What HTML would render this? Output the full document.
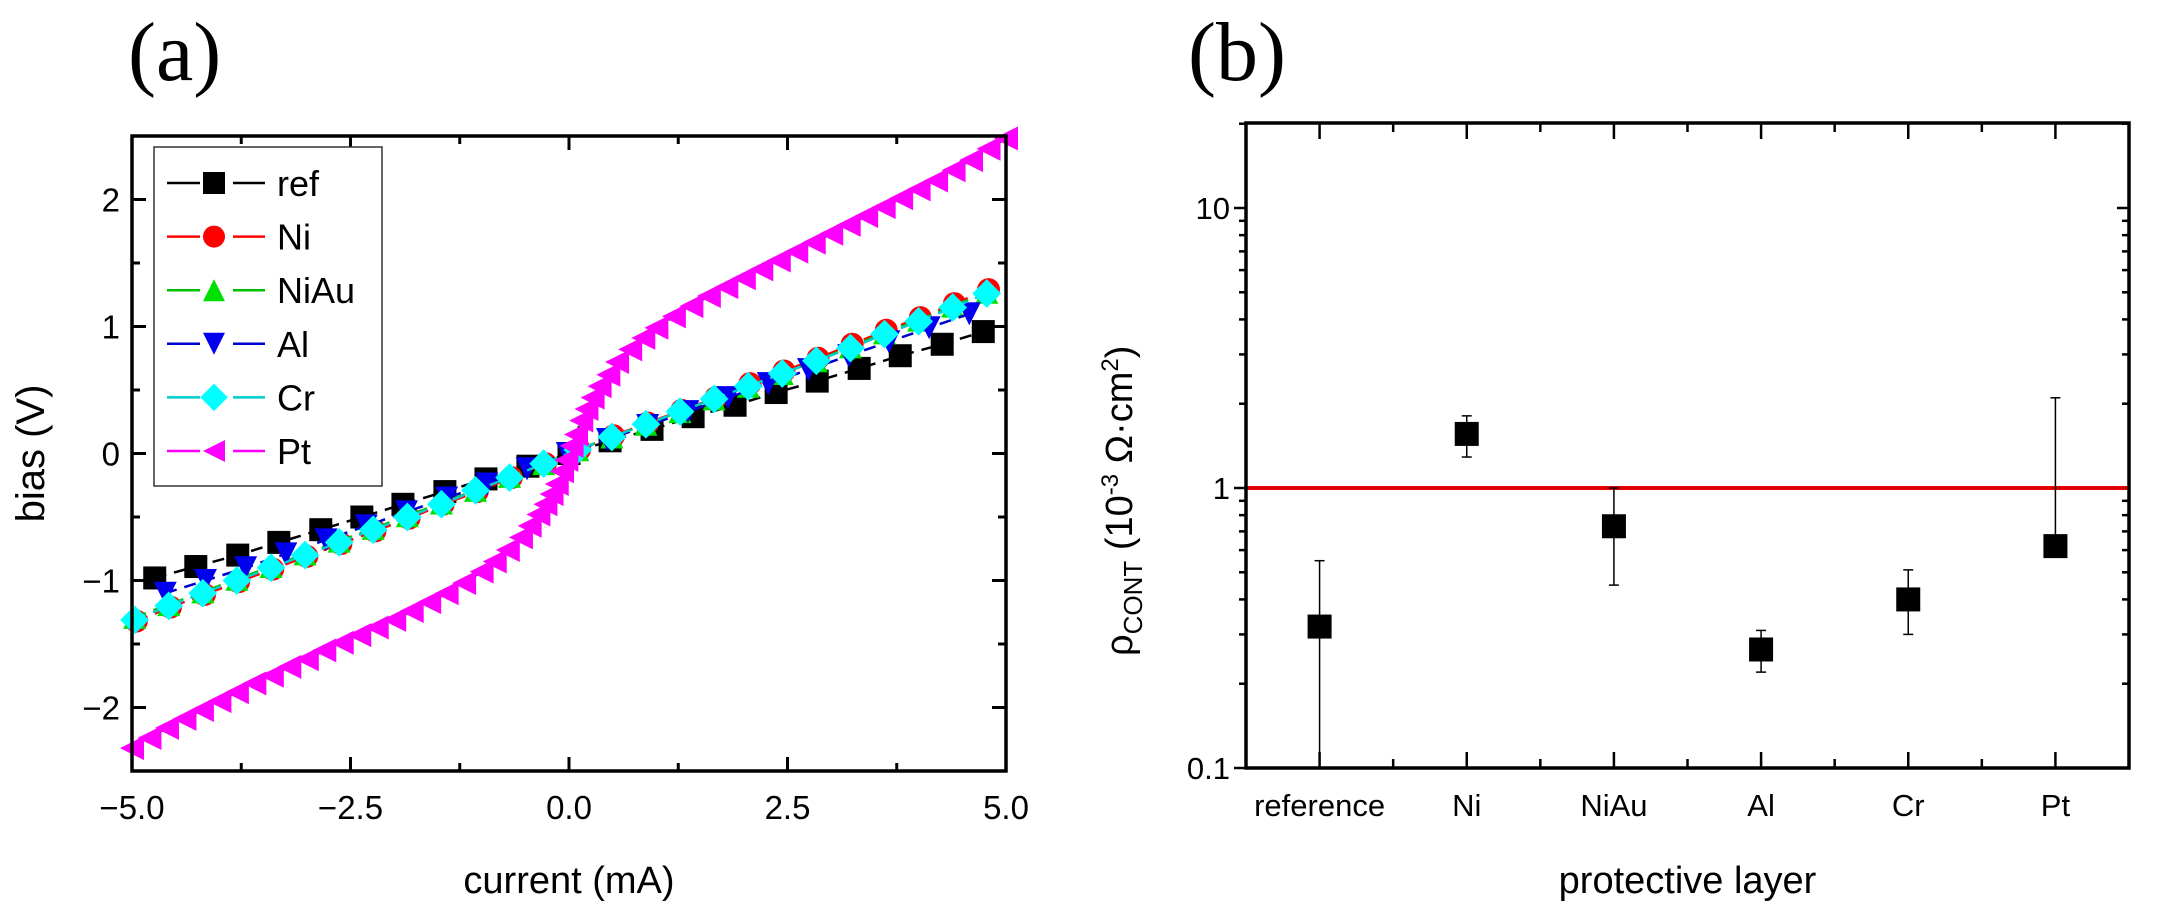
<!DOCTYPE html>
<html><head><meta charset="utf-8"><style>
html,body{margin:0;padding:0;background:#fff;}
svg{display:block;font-family:"Liberation Sans",Arial,sans-serif;}
</style></head><body>
<svg id="fig" width="2165" height="923" viewBox="0 0 2165 923" xmlns="http://www.w3.org/2000/svg">
<text x="128" y="80" font-family="Liberation Serif,serif" font-size="84">(a)</text>
<text x="1188" y="80" font-family="Liberation Serif,serif" font-size="84">(b)</text>
<g id="pa"></g>
<g id="pb"></g>
</svg>
<script>
// ---------- Panel (a) data ----------
const refX=[-4.74,-4.27,-3.79,-3.32,-2.84,-2.37,-1.90,-1.42,-0.95,-0.47,0.0,0.47,0.95,1.42,1.90,2.37,2.84,3.32,3.79,4.27,4.74];
const refY=[-0.98,-0.89,-0.80,-0.70,-0.60,-0.50,-0.40,-0.30,-0.20,-0.10,0.0,0.10,0.19,0.29,0.38,0.48,0.57,0.67,0.77,0.86,0.96];
const niX=[-4.95,-4.56,-4.17,-3.78,-3.39,-3.0,-2.61,-2.22,-1.83,-1.44,-1.05,-0.66,-0.27,0.12,0.51,0.90,1.29,1.68,2.07,2.46,2.85,3.24,3.63,4.02,4.41,4.80];
const niY=[-1.32,-1.21,-1.11,-1.01,-0.91,-0.81,-0.71,-0.61,-0.51,-0.40,-0.30,-0.19,-0.08,0.03,0.14,0.24,0.34,0.44,0.55,0.65,0.75,0.86,0.97,1.07,1.18,1.29];
const niauX=[-4.97,-4.58,-4.19,-3.80,-3.41,-3.02,-2.63,-2.24,-1.85,-1.46,-1.07,-0.68,-0.29,0.10,0.49,0.88,1.27,1.66,2.05,2.44,2.83,3.22,3.61,4.00,4.39,4.78];
const niauY=[-1.29,-1.19,-1.09,-0.99,-0.89,-0.79,-0.69,-0.59,-0.49,-0.39,-0.29,-0.18,-0.08,0.03,0.13,0.23,0.33,0.43,0.53,0.63,0.73,0.84,0.95,1.05,1.16,1.27];
const alX=[-4.62,-4.16,-3.70,-3.24,-2.78,-2.32,-1.86,-1.40,-0.94,-0.48,-0.02,0.44,0.90,1.36,1.82,2.28,2.74,3.20,3.66,4.12,4.58];
const alY=[-1.10,-1.0,-0.90,-0.79,-0.68,-0.57,-0.46,-0.35,-0.24,-0.12,0.0,0.11,0.22,0.33,0.44,0.55,0.66,0.77,0.88,0.99,1.10];
const crX=[-4.97,-4.58,-4.19,-3.80,-3.41,-3.02,-2.63,-2.24,-1.85,-1.46,-1.07,-0.68,-0.29,0.10,0.49,0.88,1.27,1.66,2.05,2.44,2.83,3.22,3.61,4.00,4.39,4.78];
const crY=[-1.31,-1.20,-1.10,-1.00,-0.90,-0.80,-0.70,-0.60,-0.50,-0.40,-0.29,-0.19,-0.08,0.03,0.13,0.23,0.33,0.43,0.53,0.63,0.73,0.83,0.94,1.04,1.15,1.26];
const ptX=[-5.0,-4.8,-4.6,-4.4,-4.2,-4.0,-3.8,-3.6,-3.4,-3.2,-3.0,-2.8,-2.6,-2.4,-2.2,-2.0,-1.8,-1.6,-1.4,-1.2,-1.0,-0.85,-0.7,-0.55,-0.45,-0.35,-0.27,-0.2,-0.14,-0.08,-0.03,0.03,0.08,0.14,0.2,0.27,0.35,0.45,0.55,0.7,0.85,1.0,1.2,1.4,1.6,1.8,2.0,2.2,2.4,2.6,2.8,3.0,3.2,3.4,3.6,3.8,4.0,4.2,4.4,4.6,4.8,5.0];
const ptY=[-2.32,-2.24,-2.16,-2.09,-2.02,-1.95,-1.88,-1.81,-1.75,-1.68,-1.62,-1.55,-1.49,-1.43,-1.37,-1.31,-1.24,-1.17,-1.10,-1.02,-0.93,-0.85,-0.76,-0.66,-0.57,-0.48,-0.40,-0.32,-0.24,-0.14,-0.05,0.06,0.15,0.26,0.35,0.44,0.53,0.62,0.72,0.82,0.91,0.99,1.08,1.16,1.24,1.31,1.38,1.45,1.52,1.59,1.66,1.73,1.80,1.87,1.94,2.01,2.08,2.15,2.23,2.31,2.40,2.48];
const aXTicks=[-5,-2.5,0,2.5,5];
const aXTickLabels=["\u22125.0","\u22122.5","0.0","2.5","5.0"];
const aYTicks=[-2,-1,0,1,2];
const aYTickLabels=["\u22122","\u22121","0","1","2"];
const seriesNames=["ref","Ni","NiAu","Al","Cr","Pt"];
// ---------- Panel (b) data ----------
const layers=["reference","Ni","NiAu","Al","Cr","Pt"];
const rhoVal=[0.32,1.56,0.73,0.265,0.40,0.62];
const rhoErrHi=[0.55,1.81,1.0,0.31,0.51,2.1];
const rhoErrLo=[0.05,1.29,0.45,0.22,0.30,0.62];
const bYTicks=[0.1,1,10];
const bYTickLabels=["0.1","1","10"];
const refLine=[1];

const NS="http://www.w3.org/2000/svg";
function mk(parent,tag,attrs,text){const e=document.createElementNS(NS,tag);for(const k in attrs)e.setAttribute(k,attrs[k]);if(text!==undefined)e.textContent=text;parent.appendChild(e);return e;}

// ---------- Panel (a) ----------
const pa=document.getElementById('pa');
const aL=132,aR=1006,aT=136,aB=771;
const ax=v=>aL+(v+5)/10*(aR-aL);
const ay=v=>aB-(v+2.5)/5*(aB-aT);
// ticks
for(let v=-5;v<=5.001;v+=1.25){const major=Math.abs(v/2.5-Math.round(v/2.5))<1e-6;const len=major?14:8;
 let t=mk(pa,'line',{x1:ax(v),x2:ax(v),y1:aB,y2:aB-len,stroke:'#000','stroke-width':3});
 
 
 mk(pa,'line',{x1:ax(v),x2:ax(v),y1:aT,y2:aT+len,stroke:'#000','stroke-width':3});}
for(let v=-2.5;v<=2.5001;v+=0.5){const major=Math.abs(v-Math.round(v))<1e-6;const len=major?14:8;
 let t=mk(pa,'line',{x1:aL,x2:aL+len,y1:ay(v),y2:ay(v),stroke:'#000','stroke-width':3});
 
 
 mk(pa,'line',{x1:aR,x2:aR-len,y1:ay(v),y2:ay(v),stroke:'#000','stroke-width':3});}
aXTicks.forEach((v,i)=>{const t=mk(pa,'text',{x:ax(v),y:aB+48,'text-anchor':'middle','font-size':33},aXTickLabels[i]);
 
 });
aYTicks.forEach((v,i)=>{const t=mk(pa,'text',{x:aL-12,y:ay(v)+12,'text-anchor':'end','font-size':33},aYTickLabels[i]);
 
 });
let at=mk(pa,'text',{x:(aL+aR)/2,y:893,'text-anchor':'middle','font-size':38},'current (mA)');


at=mk(pa,'text',{x:0,y:0,'text-anchor':'middle','font-size':40,transform:`translate(44,${ay(0)}) rotate(-90)`},'bias (V)');



function marker(g,type,cx,cy,color,s){
 if(type==='sq')return mk(g,'rect',{x:cx-s/2,y:cy-s/2,width:s,height:s,fill:color});
 if(type==='ci')return mk(g,'circle',{cx:cx,cy:cy,r:s/2,fill:color});
 if(type==='up')return mk(g,'polygon',{points:`${cx},${cy-s/2} ${cx+s/2},${cy+s/2} ${cx-s/2},${cy+s/2}`,fill:color});
 if(type==='dn')return mk(g,'polygon',{points:`${cx-s/2},${cy-s/2} ${cx+s/2},${cy-s/2} ${cx},${cy+s/2}`,fill:color});
 if(type==='di')return mk(g,'polygon',{points:`${cx},${cy-s/1.6} ${cx+s/1.6},${cy} ${cx},${cy+s/1.6} ${cx-s/1.6},${cy}`,fill:color});
 if(type==='lt')return mk(g,'polygon',{points:`${cx-s/2},${cy} ${cx+s/2},${cy-s/2} ${cx+s/2},${cy+s/2}`,fill:color});
}
const series=[
 {name:'ref',xs:refX,ys:refY,c:'#000',m:'sq',lc:'#000',dash:'12 8'},
 {name:'Ni',xs:niX,ys:niY,c:'#ff0000',m:'ci',lc:'#ff0000',dash:'12 8'},
 {name:'NiAu',xs:niauX,ys:niauY,c:'#00e000',m:'up',lc:'#00c000',dash:'12 8'},
 {name:'Al',xs:alX,ys:alY,c:'#0000ee',m:'dn',lc:'#0000cc',dash:'12 8'},
 {name:'Cr',xs:crX,ys:crY,c:'#00ffff',m:'di',lc:'#00cccc',dash:'12 8'},
 {name:'Pt',xs:ptX,ys:ptY,c:'#ff00ff',m:'lt',lc:'#333',dash:'3 5'}];
series.forEach(s=>{
 const g=mk(pa,'g',{});
 
 
 const pts=s.xs.map((x,i)=>`${ax(x)},${ay(s.ys[i])}`).join(' ');
 mk(g,'polyline',{points:pts,fill:'none',stroke:s.lc,'stroke-width':2.5,'stroke-dasharray':s.dash});
 s.xs.forEach((x,i)=>{const m=marker(g,s.m,ax(x),ay(s.ys[i]),s.c,s.m==='lt'?24:23);
  
  });
});
mk(pa,'rect',{x:aL,y:aT,width:aR-aL,height:aB-aT,fill:'none',stroke:'#000','stroke-width':3.5});
// legend
const lg=mk(pa,'g',{});


mk(lg,'rect',{x:154,y:147,width:228,height:339,fill:'#fff',stroke:'#333','stroke-width':1.5});
series.forEach((s,i)=>{
 const y=183+i*53.6;
 const e=mk(lg,'g',{});
 
 
 mk(e,'line',{x1:167,x2:200,y1:y,y2:y,stroke:s.lc==='#333'?s.c:s.lc,'stroke-width':2.5});
 mk(e,'line',{x1:233,x2:265,y1:y,y2:y,stroke:s.lc==='#333'?s.c:s.lc,'stroke-width':2.5});
 marker(e,s.m,214,y,s.c,22);
 mk(e,'text',{x:277,y:y+13,'font-size':36},s.name);
});

// ---------- Panel (b) ----------
const pb=document.getElementById('pb');
const bL=1246,bR=2129,bT=123,bB=768;
const bx=i=>bL+(i+0.5)/6*(bR-bL);
const by=v=>488-Math.log10(v)*280;
for(let k=-0.5;k<=5.5001;k+=0.5){const major=Math.abs(k-Math.round(k))<1e-6;const len=major?16:9;
 const X=bL+(k+0.5)/6*(bR-bL);
 let t=mk(pb,'line',{x1:X,x2:X,y1:bB,y2:bB-len,stroke:'#000','stroke-width':2.5});
 
 
 mk(pb,'line',{x1:X,x2:X,y1:bT,y2:bT+len,stroke:'#000','stroke-width':2.5});}
[0.1,1,10].forEach(d=>{for(let m=1;m<=9;m++){const v=d*m;if(v>20)break;const len=m===1?12:7;
 let t=mk(pb,'line',{x1:bL,x2:bL-len,y1:by(v),y2:by(v),stroke:'#000','stroke-width':2.5});
 
 
 mk(pb,'line',{x1:bR,x2:bR-len,y1:by(v),y2:by(v),stroke:'#000','stroke-width':2.5});}});
bYTicks.forEach((v,i)=>{const t=mk(pb,'text',{x:bL-16,y:by(v)+11,'text-anchor':'end','font-size':31},bYTickLabels[i]);
 
 });
layers.forEach((n,i)=>{const t=mk(pb,'text',{x:bx(i),y:bB+48,'text-anchor':'middle','font-size':31},n);
 
 });
at=mk(pb,'text',{x:(bL+bR)/2,y:893,'text-anchor':'middle','font-size':38},'protective layer');


const yt=mk(pb,'text',{x:0,y:0,'text-anchor':'middle','font-size':38,transform:`translate(1132,${by(0.9)}) rotate(-90)`});


yt.innerHTML='ρ<tspan font-size="26" dy="10">CONT</tspan><tspan dy="-10"> (10</tspan><tspan font-size="24" dy="-14">-3</tspan><tspan dy="14"> Ω·cm</tspan><tspan font-size="24" dy="-14">2</tspan><tspan dy="14">)</tspan>';
refLine.forEach(v=>{const l=mk(pb,'line',{x1:bL,x2:bR,y1:by(v),y2:by(v),stroke:'#e00000','stroke-width':4});
 
 });
layers.forEach((n,i)=>{
 const g=mk(pb,'g',{});
 
 
 const X=bx(i);const yh=by(rhoErrHi[i]);const yl=Math.min(by(rhoErrLo[i]),bB);
 mk(g,'line',{x1:X,x2:X,y1:yh,y2:yl,stroke:'#000','stroke-width':1.5});
 mk(g,'line',{x1:X-5,x2:X+5,y1:yh,y2:yh,stroke:'#000','stroke-width':1.5});
 if(by(rhoErrLo[i])<bB)mk(g,'line',{x1:X-5,x2:X+5,y1:yl,y2:yl,stroke:'#000','stroke-width':1.5});
 mk(g,'rect',{x:X-12,y:by(rhoVal[i])-12,width:24,height:24,fill:'#000'});
});
mk(pb,'rect',{x:bL,y:bT,width:bR-bL,height:bB-bT,fill:'none',stroke:'#000','stroke-width':3.5});
</script>
</body></html>
